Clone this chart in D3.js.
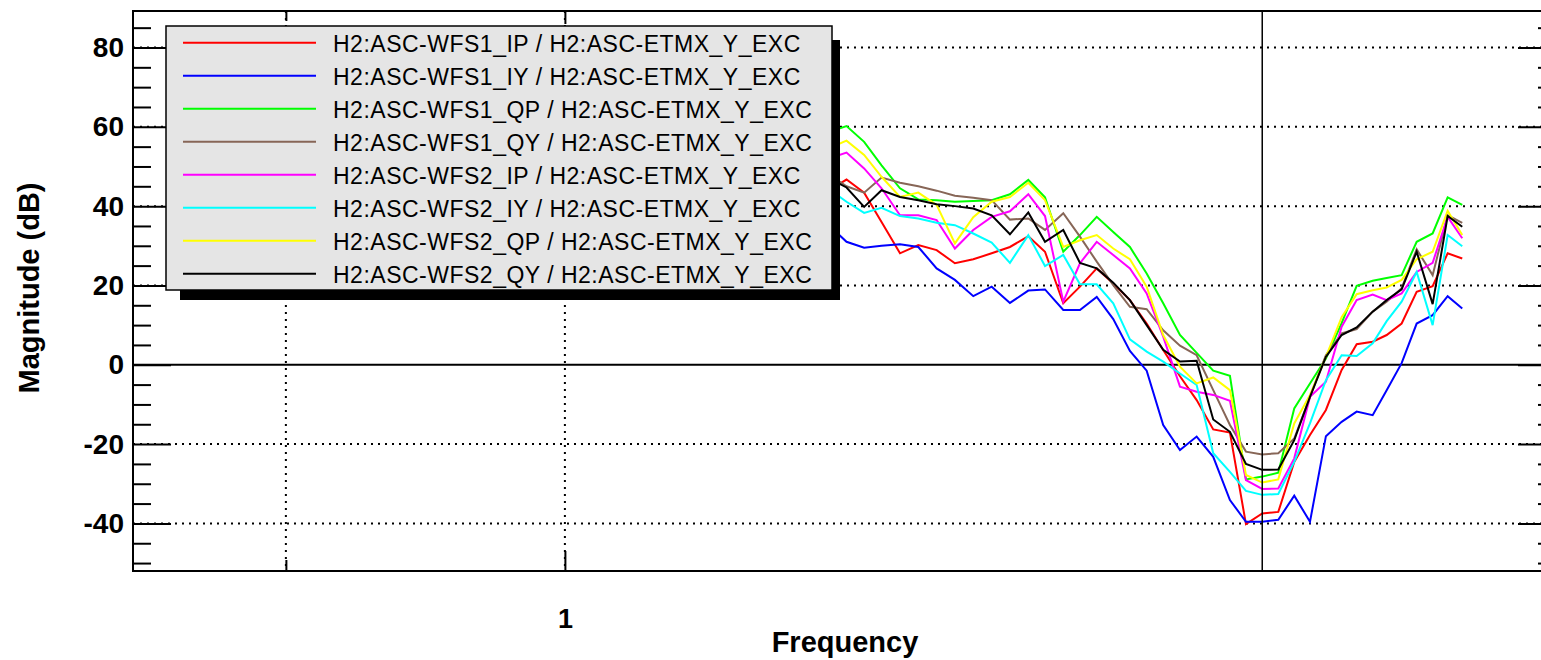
<!DOCTYPE html>
<html>
<head>
<meta charset="utf-8">
<script src="https://cdn.jsdelivr.net/npm/d3@7"></script>
<style>
  html, body { margin: 0; padding: 0; background: #fff; }
  svg { display: block; font-family: "Liberation Sans", Arial, Helvetica, sans-serif; }
</style>
</head>
<body>
<div id="chart"></div>
<script>
// swept-sine transfer functions, magnitude in dB vs frequency (Hz)
// first point sits behind the legend box
const freqs = [1.927, 2.013, 2.103, 2.196, 2.299, 2.406, 2.518, 2.635, 2.758, 2.887,
  3.021, 3.162, 3.296, 3.449, 3.595, 3.748, 3.905, 4.070, 4.243, 4.421,
  4.609, 4.804, 5.006, 5.218, 5.430, 5.654, 5.884, 6.122, 6.366, 6.623,
  6.887, 7.149, 7.439, 7.702, 7.994, 8.298, 8.634, 8.962, 9.293];

const wfs1IP = [44.0, 46.7, 43.4, 36.0, 28.1, 30.2, 28.9, 25.6, 26.6, 28.1,
  29.7, 32.4, 28.5, 15.5, 19.7, 24.3, 20.5, 16.3, 10.4, 3.7,
  -2.9, -8.9, -16.3, -17.1, -40.2, -37.5, -37.1, -24.5, -17.7, -11.4,
  -1.3, 5.2, 5.8, 7.5, 10.4, 18.4, 19.8, 28.1, 26.8];
const wfs1IY = [35.2, 31.0, 29.5, 30.0, 30.4, 29.7, 24.3, 21.4, 17.3, 19.7,
  15.6, 18.7, 19.0, 13.8, 13.8, 17.1, 11.5, 3.5, -1.5, -15.2,
  -21.5, -18.1, -23.2, -34.1, -39.6, -39.6, -39.1, -33.0, -39.6, -18.0,
  -14.4, -11.8, -12.7, -6.4, 0.4, 10.4, 12.5, 17.3, 14.2];
const wfs1QP = [58.7, 60.2, 56.2, 50.3, 44.5, 41.7, 41.5, 41.1, 41.3, 41.5,
  43.0, 46.6, 42.2, 28.5, 32.7, 37.3, 33.5, 29.7, 23.0, 15.5,
  7.5, 3.0, -1.5, -2.8, -28.9, -28.2, -27.2, -11.0, -4.7, 1.6,
  10.5, 19.9, 21.2, 21.9, 22.6, 31.0, 33.1, 42.2, 40.3];
const wfs1QY = [48.0, 45.0, 43.4, 47.2, 45.9, 45.0, 43.9, 42.6, 42.1, 41.5,
  36.6, 36.9, 34.0, 38.2, 32.3, 26.0, 20.1, 14.6, 14.0, 8.7,
  4.8, 2.4, -6.4, -15.2, -21.9, -22.6, -22.3, -18.6, -8.1, 2.4,
  7.9, 9.0, 13.4, 15.9, 19.3, 29.1, 22.6, 37.7, 35.8];
const wfs2IP = [52.0, 53.5, 49.5, 44.5, 37.7, 37.7, 36.5, 29.3, 34.0, 37.3,
  38.7, 43.0, 37.5, 15.9, 25.6, 31.0, 27.7, 24.3, 18.0, 7.1,
  -5.5, -6.8, -7.6, -9.1, -29.1, -31.3, -31.2, -23.6, -8.1, -4.3,
  9.6, 16.3, 17.7, 16.3, 18.0, 23.4, 25.7, 37.3, 31.9];
const wfs2IY = [44.3, 41.1, 38.3, 39.6, 37.5, 36.9, 35.8, 35.2, 33.1, 30.8,
  25.7, 32.7, 24.9, 27.7, 20.3, 20.3, 15.5, 6.4, 3.3, 0.8,
  -2.2, -5.1, -22.3, -27.0, -31.8, -32.8, -32.6, -24.5, -14.8, -3.9,
  2.4, 2.2, 5.4, 11.0, 15.9, 23.4, 10.0, 32.7, 29.9];
const wfs2QP = [54.6, 56.5, 52.9, 47.4, 42.3, 43.4, 40.3, 30.6, 37.2, 41.1,
  42.3, 45.9, 41.5, 29.7, 31.4, 32.7, 29.3, 26.6, 19.7, 7.5,
  -0.5, -4.7, -3.2, -6.4, -27.8, -29.7, -28.9, -14.8, -7.6, 2.0,
  12.0, 17.8, 18.8, 19.5, 21.4, 26.6, 28.5, 38.8, 32.7];
const wfs2QY = [47.0, 44.7, 39.8, 44.0, 42.3, 41.5, 40.5, 40.0, 39.4, 37.7,
  32.9, 38.4, 31.0, 34.0, 25.7, 24.3, 20.7, 16.3, 10.0, 3.8,
  0.8, 1.0, -13.8, -16.9, -25.0, -26.5, -26.4, -19.0, -8.1, 2.0,
  7.5, 9.4, 13.4, 16.3, 19.0, 28.5, 15.3, 37.5, 34.8];

const seriesNames = [
  "H2:ASC-WFS1_IP / H2:ASC-ETMX_Y_EXC",
  "H2:ASC-WFS1_IY / H2:ASC-ETMX_Y_EXC",
  "H2:ASC-WFS1_QP / H2:ASC-ETMX_Y_EXC",
  "H2:ASC-WFS1_QY / H2:ASC-ETMX_Y_EXC",
  "H2:ASC-WFS2_IP / H2:ASC-ETMX_Y_EXC",
  "H2:ASC-WFS2_IY / H2:ASC-ETMX_Y_EXC",
  "H2:ASC-WFS2_QP / H2:ASC-ETMX_Y_EXC",
  "H2:ASC-WFS2_QY / H2:ASC-ETMX_Y_EXC"
];
const seriesValues = [wfs1IP, wfs1IY, wfs1QP, wfs1QY, wfs2IP, wfs2IY, wfs2QP, wfs2QY];
const seriesColors = ["#ff0000", "#0000ff", "#00ff00", "#876657",
                      "#ff00ff", "#00ffff", "#ffff00", "#000000"];

const yMajorTicks = [-40, -20, 0, 20, 40, 60, 80];
const yMinorTicks = [-50, -45, -35, -30, -25, -15, -10, -5, 5, 10, 15, 25, 30, 35,
                     45, 50, 55, 65, 70, 75, 85];
const xMajorTicks = [1];
const xMinorTicks = [0.5];
const cursorFreq = 5.654;

const W = 1541, H = 660;
const L = 133, T = 11, R = 1556, B = 571;   // plot frame (right edge is cut off)

const svg = d3.select("#chart").append("svg")
  .attr("width", W).attr("height", H);

svg.append("rect").attr("width", W).attr("height", H).attr("fill", "#fff");

const x = d3.scaleLog().domain([0.342, 11.73]).range([L, R]);
const y = d3.scaleLinear().domain([-52, 89.2]).range([B, T]);

svg.append("defs").append("clipPath").attr("id", "plot-clip")
  .append("rect").attr("x", L).attr("y", T).attr("width", R - L).attr("height", B - T);

// dotted grid
const grid = svg.append("g").attr("stroke", "#000").attr("stroke-width", 2)
  .attr("stroke-dasharray", "2,5");
grid.selectAll("line.gy")
  .data(yMajorTicks.filter(d => d !== 0))
  .join("line").attr("class", "gy")
    .attr("x1", L).attr("x2", R).attr("y1", d => y(d)).attr("y2", d => y(d));
grid.selectAll("line.gx")
  .data(xMajorTicks.concat(xMinorTicks))
  .join("line").attr("class", "gx")
    .attr("x1", d => x(d)).attr("x2", d => x(d)).attr("y1", T).attr("y2", B);

// zero line is solid
svg.append("line")
  .attr("x1", L).attr("x2", R).attr("y1", y(0)).attr("y2", y(0))
  .attr("stroke", "#000").attr("stroke-width", 2);

// traces
const line = d3.line().x((d, i) => x(freqs[i])).y(d => y(d));
svg.append("g").attr("clip-path", "url(#plot-clip)")
  .selectAll("path")
  .data(seriesValues)
  .join("path")
    .attr("d", d => line(d))
    .attr("fill", "none")
    .attr("stroke", (d, i) => seriesColors[i])
    .attr("stroke-width", 2)
    .attr("stroke-linejoin", "miter");

// cursor
svg.append("line")
  .attr("x1", x(cursorFreq)).attr("x2", x(cursorFreq)).attr("y1", T).attr("y2", B)
  .attr("stroke", "#000").attr("stroke-width", 1.5);

// axes: ticks point inward, ROOT style
function styleAxis(g) {
  g.select(".domain").remove();
  g.selectAll(".tick line").attr("stroke", "#000").attr("stroke-width", 2);
  g.selectAll("text").attr("fill", "#000");
}

svg.append("g").attr("transform", `translate(${L},0)`)
  .call(d3.axisLeft(y).tickValues(yMajorTicks).tickSize(-38).tickPadding(9)
    .tickFormat(d => String(d)))
  .attr("font-family", null).attr("font-size", 28).attr("font-weight", "bold")
  .call(styleAxis);
svg.append("g").attr("transform", `translate(${L},0)`)
  .call(d3.axisLeft(y).tickValues(yMinorTicks).tickSize(-18).tickFormat(""))
  .call(styleAxis);
svg.append("g").attr("transform", `translate(${R},0)`)
  .call(d3.axisRight(y).tickValues(yMajorTicks).tickSize(-38).tickFormat(""))
  .call(styleAxis);
svg.append("g").attr("transform", `translate(${R},0)`)
  .call(d3.axisRight(y).tickValues(yMinorTicks).tickSize(-18).tickFormat(""))
  .call(styleAxis);

svg.append("g").attr("transform", `translate(0,${B})`)
  .call(d3.axisBottom(x).tickValues(xMajorTicks).tickSize(-20).tickPadding(38)
    .tickFormat(d => String(d)))
  .attr("font-family", null).attr("font-size", 27).attr("font-weight", "bold")
  .call(styleAxis);
svg.append("g").attr("transform", `translate(0,${B})`)
  .call(d3.axisBottom(x).tickValues(xMinorTicks).tickSize(-11).tickFormat(""))
  .call(styleAxis);
svg.append("g").attr("transform", `translate(0,${T})`)
  .call(d3.axisTop(x).tickValues(xMajorTicks).tickSize(-13).tickFormat(""))
  .call(styleAxis);
svg.append("g").attr("transform", `translate(0,${T})`)
  .call(d3.axisTop(x).tickValues(xMinorTicks).tickSize(-10).tickFormat(""))
  .call(styleAxis);

// frame
svg.append("rect")
  .attr("x", L).attr("y", T).attr("width", R - L).attr("height", B - T)
  .attr("fill", "none").attr("stroke", "#000").attr("stroke-width", 2);

// axis titles
svg.append("text")
  .attr("transform", "translate(39,288) rotate(-90)")
  .attr("text-anchor", "middle")
  .style("font-size", "29px").style("font-weight", "bold")
  .text("Magnitude (dB)");
svg.append("text")
  .attr("x", 845).attr("y", 652)
  .attr("text-anchor", "middle")
  .style("font-size", "29px").style("font-weight", "bold")
  .text("Frequency");

// legend with drop shadow
const lg = { x: 166, y: 26, w: 666, h: 264, row: 33 };
svg.append("rect")
  .attr("x", lg.x + 14).attr("y", lg.y + 14)
  .attr("width", lg.w - 6).attr("height", lg.h - 6 + 2)
  .attr("fill", "#000");
svg.append("rect")
  .attr("x", lg.x).attr("y", lg.y).attr("width", lg.w).attr("height", lg.h)
  .attr("fill", "#e5e5e5").attr("stroke", "#000").attr("stroke-width", 1.5);

const rows = svg.append("g").selectAll("g")
  .data(seriesNames)
  .join("g")
    .attr("transform", (d, i) => `translate(0,${42.7 + i * lg.row})`);
rows.append("line")
  .attr("x1", 183).attr("x2", 316).attr("y1", 0).attr("y2", 0)
  .attr("stroke", (d, i) => seriesColors[i]).attr("stroke-width", 2);
rows.append("text")
  .attr("x", 333).attr("y", 9)
  .style("font-size", "23px").style("letter-spacing", "0.5px")
  .attr("fill", "#000")
  .text(d => d);
</script>
</body>
</html>
